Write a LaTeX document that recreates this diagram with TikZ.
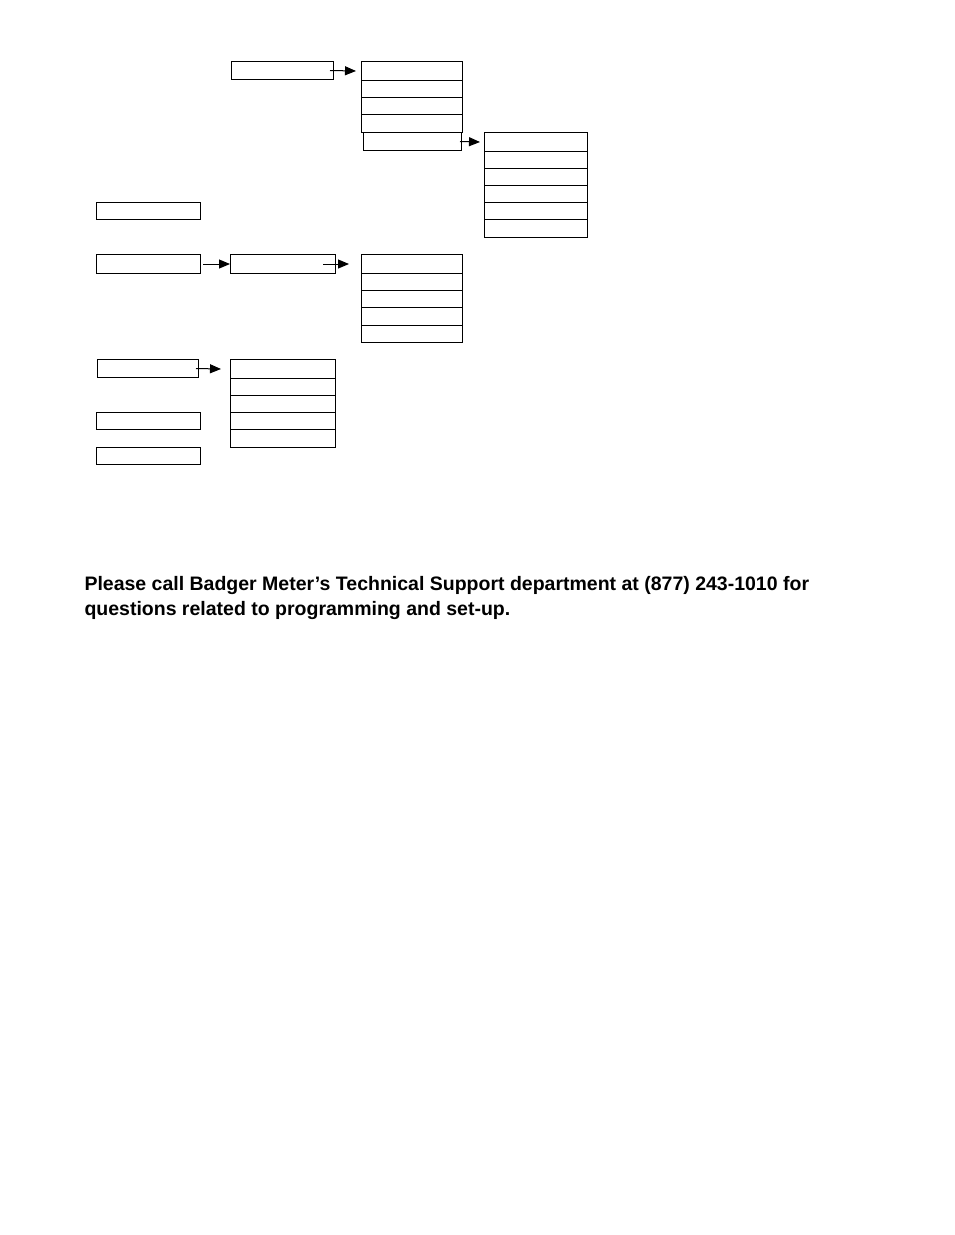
\documentclass[tikz,border=0pt]{standalone}
\usepackage{fontspec}
\setmainfont{Liberation Sans}
\usetikzlibrary{arrows.meta}
\begin{document}
\begin{tikzpicture}[x=1pt,y=-1pt,line width=1pt]
	\tikzset{menubox/.style={draw,anchor=north west,inner sep=0pt},
		link/.style={-{Triangle[length=11pt,width=9pt]}}}
	\useasboundingbox (0,0) rectangle (954,1235);
	% single boxes
	\node [menubox,minimum width=102pt,minimum height=18pt] (a) at (231,61) {};
	\node [menubox,minimum width=98pt,minimum height=18pt] (b5) at (363,132) {};
	\node [menubox,minimum width=104pt,minimum height=17pt] (d) at (96,202) {};
	\node [menubox,minimum width=104pt,minimum height=19pt] (e) at (96,254) {};
	\node [menubox,minimum width=105pt,minimum height=19pt] (f) at (230,254) {};
	\node [menubox,minimum width=101pt,minimum height=18pt] (h) at (97,359) {};
	\node [menubox,minimum width=104pt,minimum height=17pt] (j) at (96,412) {};
	\node [menubox,minimum width=104pt,minimum height=17pt] (k) at (96,447) {};
	% stacked columns
	\foreach \i/\y/\h in {1/61/19,2/80/17,3/97/17,4/114/18}
		\node [menubox,minimum width=101pt,minimum height=\h pt] (b\i) at (361,\y) {};
	\foreach \i/\y/\h in {1/132/19,2/151/17,3/168/17,4/185/17,5/202/17,6/219/18}
		\node [menubox,minimum width=103pt,minimum height=\h pt] (c\i) at (484,\y) {};
	\foreach \i/\y/\h in {1/254/19,2/273/17,3/290/17,4/307/18,5/325/17}
		\node [menubox,minimum width=101pt,minimum height=\h pt] (g\i) at (361,\y) {};
	\foreach \i/\y/\h in {1/359/19,2/378/17,3/395/17,4/412/17,5/429/18}
		\node [menubox,minimum width=105pt,minimum height=\h pt] (i\i) at (230,\y) {};
	% arrows
	\draw [link] ([xshift=-4pt]a.east) -- ([xshift=-5pt]b1.west);
	\draw [link] ([xshift=-2pt]b5.east) -- ([xshift=-4pt]c1.west);
	\draw [link] ([xshift=2pt]e.east) -- (f.west);
	\draw [link] ([xshift=-13pt]f.east) -- ([xshift=-12pt]g1.west);
	\draw [link] ([xshift=-3pt]h.east) -- ([xshift=-9pt]i1.west);
	% note
	\node [anchor=north west,align=left,inner sep=0pt,font=\bfseries\fontsize{19.5pt}{25pt}\selectfont] (note) at (84,576)
		{Please call Badger Meter's Technical Support department at (877) 243-1010 for\\questions related to programming and set-up.};
\end{tikzpicture}
\end{document}
